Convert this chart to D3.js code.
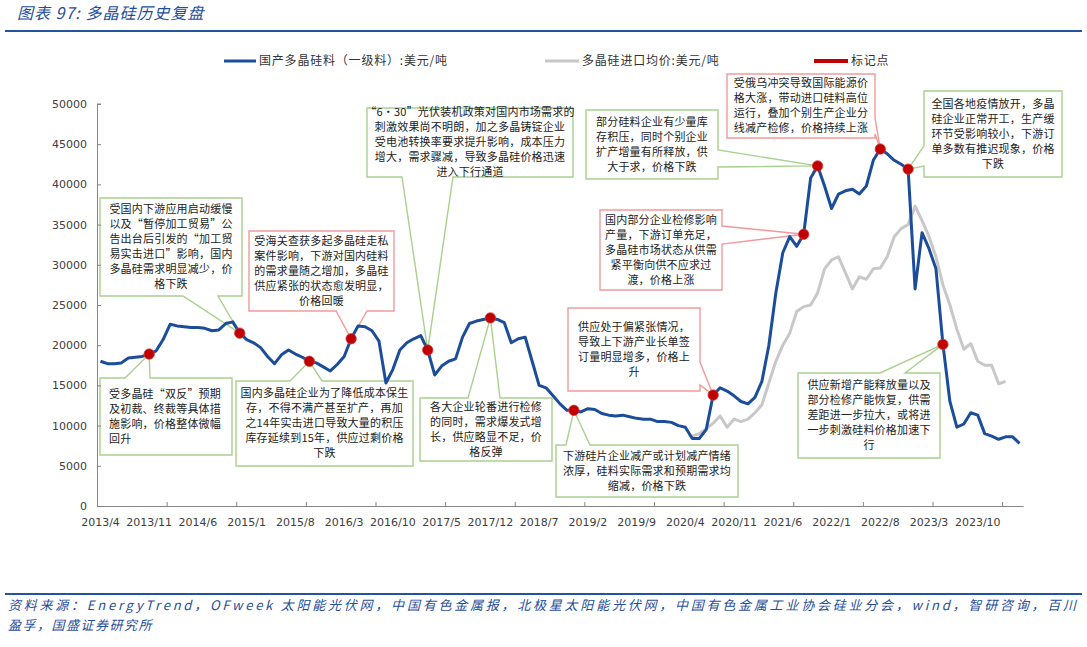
<!DOCTYPE html>
<html><head><meta charset="utf-8">
<script src="https://cdn.jsdelivr.net/npm/d3@7"></script>
<style>
html,body{margin:0;padding:0;background:#fff;}
svg{display:block;}
</style></head>
<body>
<svg id="chart" width="1087" height="647"></svg>
<script>
// ---------------- DATA ----------------
const startYear = 2013, startMonth = 4, monthCount = 133; // 2013/4 .. 2024/4
const tickLabels = ["2013/4","2013/11","2014/6","2015/1","2015/8","2016/3","2016/10","2017/5","2017/12","2018/7","2019/2","2019/9","2020/4","2020/11","2021/6","2022/1","2022/8","2023/3","2023/10"];
const yTicks = [0,5000,10000,15000,20000,25000,30000,35000,40000,45000,50000];

// 国产多晶硅料（一级料）:美元/吨, monthly from 2013/4
const domesticPrice = [
 18000,17700,17700,17800,18400,18500,18600,18900,19300,20700,
 22600,22400,22300,22200,22200,22100,21800,21900,22700,22900,
 21500,20700,20300,19700,18600,17700,18800,19400,18900,18500,
 18000,17800,17300,16800,17600,18600,20800,22400,22300,21800,
 20500,15300,17000,19400,20300,20800,21200,19400,16300,17400,
 18000,18300,21000,22700,23000,23200,23400,23200,22800,20300,
 20800,21000,18000,15000,14700,13700,12700,11900,11900,11700,
 12100,12000,11500,11300,11200,11300,11100,10900,10800,10800,
 10500,10500,10400,10000,9800,8400,8400,9500,13800,14700,
 14300,13700,13000,12700,13500,15500,20000,26500,31500,33500,
 32300,33800,40800,42300,39800,37000,38800,39200,39400,38800,
 39800,43000,44400,43800,43000,42500,41900,27000,34000,32000,
 29500,20100,13000,9800,10200,11600,11300,9000,8700,8300,
 8600,8600,7800
];
// 多晶硅进口均价:美元/吨, monthly from 2020/5
const importStart = "2020/5";
const importPrice = [
 8700,9000,9600,10300,11200,9800,10800,10500,10800,11600,
 12600,15300,18000,20000,21500,24200,24800,25000,26500,29500,
 30600,31000,29000,27000,28500,28200,29500,29600,31000,33500,
 34500,35000,37300,35500,33500,31000,27500,25000,22000,19500,
 20200,18000,17500,17500,15200,15500
];
// 标记点 months (values taken from the domestic series)
const markerMonths = ["2013/11","2014/12","2015/10","2016/4","2017/3","2017/12","2018/12","2020/8","2021/9","2021/11","2022/8","2022/12","2023/5"];

const seriesNames = ["国产多晶硅料（一级料）:美元/吨","多晶硅进口均价:美元/吨","标记点"];

const annoTexts = [
 {at:"2013/11", lines:["受多晶硅“双反”预期","及初裁、终裁等具体措","施影响，价格整体微幅","回升"]},
 {at:"2014/12", lines:["受国内下游应用启动缓慢","以及“暂停加工贸易”公","告出台后引发的“加工贸","易实击进口”影响，国内","多晶硅需求明显减少，价","格下跌"]},
 {at:"2015/10", lines:["国内多晶硅企业为了降低成本保生","存，不得不满产甚至扩产，再加","之14年实击进口导致大量的积压","库存延续到15年，供应过剩价格","下跌"]},
 {at:"2016/4", lines:["受海关查获多起多晶硅走私","案件影响，下游对国内硅料","的需求量随之增加，多晶硅","供应紧张的状态愈发明显，","价格回暖"]},
 {at:"2017/3", lines:["“6·30”光伏装机政策对国内市场需求的","刺激效果尚不明朗，加之多晶铸锭企业","受电池转换率要求提升影响，成本压力","增大，需求骤减，导致多晶硅价格迅速","进入下行通道"]},
 {at:"2017/12", lines:["各大企业轮番进行检修","的同时，需求爆发式增","长，供应略显不足，价","格反弹"]},
 {at:"2018/12", lines:["下游硅片企业减产或计划减产情绪","浓厚，硅料实际需求和预期需求均","缩减，价格下跌"]},
 {at:"2020/8", lines:["供应处于偏紧张情况，","导致上下游产业长单签","订量明显增多，价格上","升"]},
 {at:"2021/9", lines:["国内部分企业检修影响","产量，下游订单充足，","多晶硅市场状态从供需","紧平衡向供不应求过","渡，价格上涨"]},
 {at:"2021/11", lines:["部分硅料企业有少量库","存积压，同时个别企业","扩产增量有所释放，供","大于求，价格下跌"]},
 {at:"2022/8", lines:["受俄乌冲突导致国际能源价","格大涨，带动进口硅料高位","运行，叠加个别生产企业分","线减产检修，价格持续上涨"]},
 {at:"2022/12", lines:["全国各地疫情放开，多晶","硅企业正常开工，生产缓","环节受影响较小，下游订","单多数有推迟现象，价格","下跌"]},
 {at:"2023/5", lines:["供应新增产能释放量以及","部分检修产能恢复，供需","差距进一步拉大，或将进","一步刺激硅料价格加速下","行"]}
];

// ---------------- LAYOUT ----------------
const GREEN = "#a9d18e", RED = "#f29a9a";
const annoLayout = [
 {box:[100,378,232,455], side:"top",    base:[125,150], color:GREEN, align:"start"},
 {box:[100,198,242,296], side:"bottom", base:[183,218], color:GREEN},
 {box:[236,381,413,466], side:"top",    base:[290,322], color:GREEN},
 {box:[249,231,394,311], side:"bottom", base:[336,367], color:RED},
 {box:[367,108,573,177], side:"bottom", base:[402,453], color:GREEN},
 {box:[420,398,552,461], side:"top",    base:[468,500], color:GREEN},
 {box:[556,445,738,497], side:"top",    base:[566,590], color:GREEN},
 {box:[568,308,700,391], side:"right",  base:[362,385], color:RED},
 {box:[600,210,722,290], side:"right",  base:[226,244], color:RED},
 {box:[586,110,718,179], side:"right",  base:[150,167], color:GREEN},
 {box:[727,74,875,138],  side:"right",  base:[118,134], color:RED},
 {box:[924,91,1062,177], side:"left",   base:[146,166], color:GREEN},
 {box:[798,373,940,458], side:"top",    base:[880,905], color:GREEN}
];

// ---------------- BUILD ----------------
const months = [];
for (let i = 0; i < monthCount; i++) {
  const m0 = startMonth - 1 + i;
  months.push((startYear + Math.floor(m0 / 12)) + "/" + (m0 % 12 + 1));
}
const domestic = domesticPrice.map((v, i) => ({m: months[i], v}));
const impOff = months.indexOf(importStart);
const imported = importPrice.map((v, i) => ({m: months[impOff + i], v}));
const valueOf = m => domesticPrice[months.indexOf(m)];

const svg = d3.select("#chart");
const plotL = 97, plotR = 1023, plotT = 104, plotB = 506;

const x = d3.scaleBand().domain(months).range([plotL, plotR]).padding(0);
const xc = m => x(m) + x.bandwidth() / 2;
const xIdx = d3.scaleLinear().domain([0, monthCount]).range([plotL, plotR]);
const y = d3.scaleLinear().domain([0, 50000]).range([plotB, plotT]);

const cjk = "'Noto Sans CJK SC','Noto Sans',sans-serif";

// Title
svg.append("text").attr("x", 17).attr("y", 19)
  .attr("font-family", cjk).attr("font-size", 16).attr("font-style", "italic")
  .attr("letter-spacing", 1)
  .attr("fill", "#1f4e9c").text("图表 97:  多晶硅历史复盘");
svg.append("line").attr("x1", 5).attr("x2", 1082).attr("y1", 31).attr("y2", 31)
  .attr("stroke", "#2354a0").attr("stroke-width", 2);

// Legend
const legend = [
  {x:224, w:32, color:"#1b4d9b", sw:3, text:seriesNames[0]},
  {x:545, w:34, color:"#c8c8c8", sw:3, text:seriesNames[1]},
  {x:814, w:34, color:"#c00000", sw:4, text:seriesNames[2]}
];
legend.forEach(l => {
  svg.append("line").attr("x1", l.x).attr("x2", l.x + l.w).attr("y1", 61).attr("y2", 61)
    .attr("stroke", l.color).attr("stroke-width", l.sw);
  svg.append("text").attr("x", l.x + l.w + 3).attr("y", 61).attr("dy", "0.35em")
    .attr("font-family", cjk).attr("font-size", 12).attr("letter-spacing", 0.8)
    .attr("fill", "#333").text(l.text);
});

// Callouts
function calloutPath(b, side, a, t) {
  const [x0, y0, x1, y1] = b, [a0, a1] = a, [tx, ty] = t;
  if (side === "top") return `M${x0},${y0}L${a0},${y0}L${tx},${ty}L${a1},${y0}L${x1},${y0}L${x1},${y1}L${x0},${y1}Z`;
  if (side === "bottom") return `M${x0},${y0}L${x1},${y0}L${x1},${y1}L${a1},${y1}L${tx},${ty}L${a0},${y1}L${x0},${y1}Z`;
  if (side === "right") return `M${x0},${y0}L${x1},${y0}L${x1},${a0}L${tx},${ty}L${x1},${a1}L${x1},${y1}L${x0},${y1}Z`;
  return `M${x0},${y0}L${x1},${y0}L${x1},${y1}L${x0},${y1}L${x0},${a1}L${tx},${ty}L${x0},${a0}Z`;
}
const annoG = svg.append("g");
annoTexts.forEach((a, i) => {
  const L = annoLayout[i];
  const tip = [xc(a.at), y(valueOf(a.at))];
  annoG.append("path").attr("d", calloutPath(L.box, L.side, L.base, tip))
    .attr("fill", "#fff").attr("stroke", L.color).attr("stroke-width", 1.4)
    .attr("stroke-linejoin", "miter");
  const [x0, y0, x1, y1] = L.box;
  const cy = (y0 + y1) / 2, lh = 15, n = a.lines.length;
  const left = L.align === "start";
  a.lines.forEach((s, j) => {
    annoG.append("text")
      .attr("x", left ? x0 + 9 : (x0 + x1) / 2)
      .attr("y", cy + (j - (n - 1) / 2) * lh)
      .attr("dy", "0.36em")
      .attr("text-anchor", left ? "start" : "middle")
      .attr("font-family", cjk).attr("font-size", 11).attr("letter-spacing", 0.2)
      .attr("fill", "#222").text(s);
  });
});

// Axes
const yAxis = svg.append("g").attr("transform", `translate(${plotL},0)`)
  .call(d3.axisLeft(y).tickValues(yTicks).tickFormat(d3.format("d")).tickSize(-4).tickPadding(10).tickSizeOuter(0));
const xLab = svg.append("g").attr("transform", `translate(0,${plotB})`)
  .call(d3.axisBottom(x).tickValues(tickLabels).tickSize(0).tickPadding(12));
xLab.select(".domain").remove();
const xTicks = svg.append("g").attr("transform", `translate(0,${plotB})`)
  .call(d3.axisBottom(xIdx).tickValues(d3.range(0, monthCount + 1, 10)).tickSize(-4).tickSizeOuter(0).tickFormat(""));
[yAxis, xLab, xTicks].forEach(g => {
  g.selectAll(".domain").attr("stroke", "#868686");
  g.selectAll(".tick line").attr("stroke", "#868686");
  g.selectAll("text").attr("font-family", "'DejaVu Sans',Verdana,sans-serif")
    .attr("font-size", 11).attr("fill", "#404040");
});
// top cap of y axis
svg.append("line").attr("x1", plotL).attr("x2", plotL + 4).attr("y1", plotT).attr("y2", plotT)
  .attr("stroke", "#868686");

// Lines
const line = d3.line().x(d => xc(d.m)).y(d => y(d.v)).curve(d3.curveLinear);
svg.append("path").datum(imported).attr("d", line)
  .attr("fill", "none").attr("stroke", "#c8c8c8").attr("stroke-width", 3).attr("stroke-linejoin", "round");
svg.append("path").datum(domestic).attr("d", line)
  .attr("fill", "none").attr("stroke", "#1b4d9b").attr("stroke-width", 3).attr("stroke-linejoin", "round");

// Markers
svg.append("g").selectAll("circle").data(markerMonths).join("circle")
  .attr("cx", m => xc(m)).attr("cy", m => y(valueOf(m))).attr("r", 5.2)
  .attr("fill", "#c00000").attr("stroke", "#d83a3a").attr("stroke-width", 0.8);

// Footer
svg.append("line").attr("x1", 5).attr("x2", 1082).attr("y1", 594).attr("y2", 594)
  .attr("stroke", "#2354a0").attr("stroke-width", 2);
svg.append("text").attr("x", 8).attr("y", 610)
  .attr("font-family", cjk).attr("font-size", 13).attr("font-style", "italic")
  .attr("fill", "#1f4e9c").attr("textLength", 1068).attr("lengthAdjust", "spacing")
  .text("资料来源：EnergyTrend，OFweek 太阳能光伏网，中国有色金属报，北极星太阳能光伏网，中国有色金属工业协会硅业分会，wind，智研咨询，百川");
svg.append("text").attr("x", 8).attr("y", 630)
  .attr("font-family", cjk).attr("font-size", 13).attr("font-style", "italic")
  .attr("fill", "#1f4e9c").attr("letter-spacing", 1.5)
  .text("盈孚，国盛证券研究所");
</script>
</body></html>
